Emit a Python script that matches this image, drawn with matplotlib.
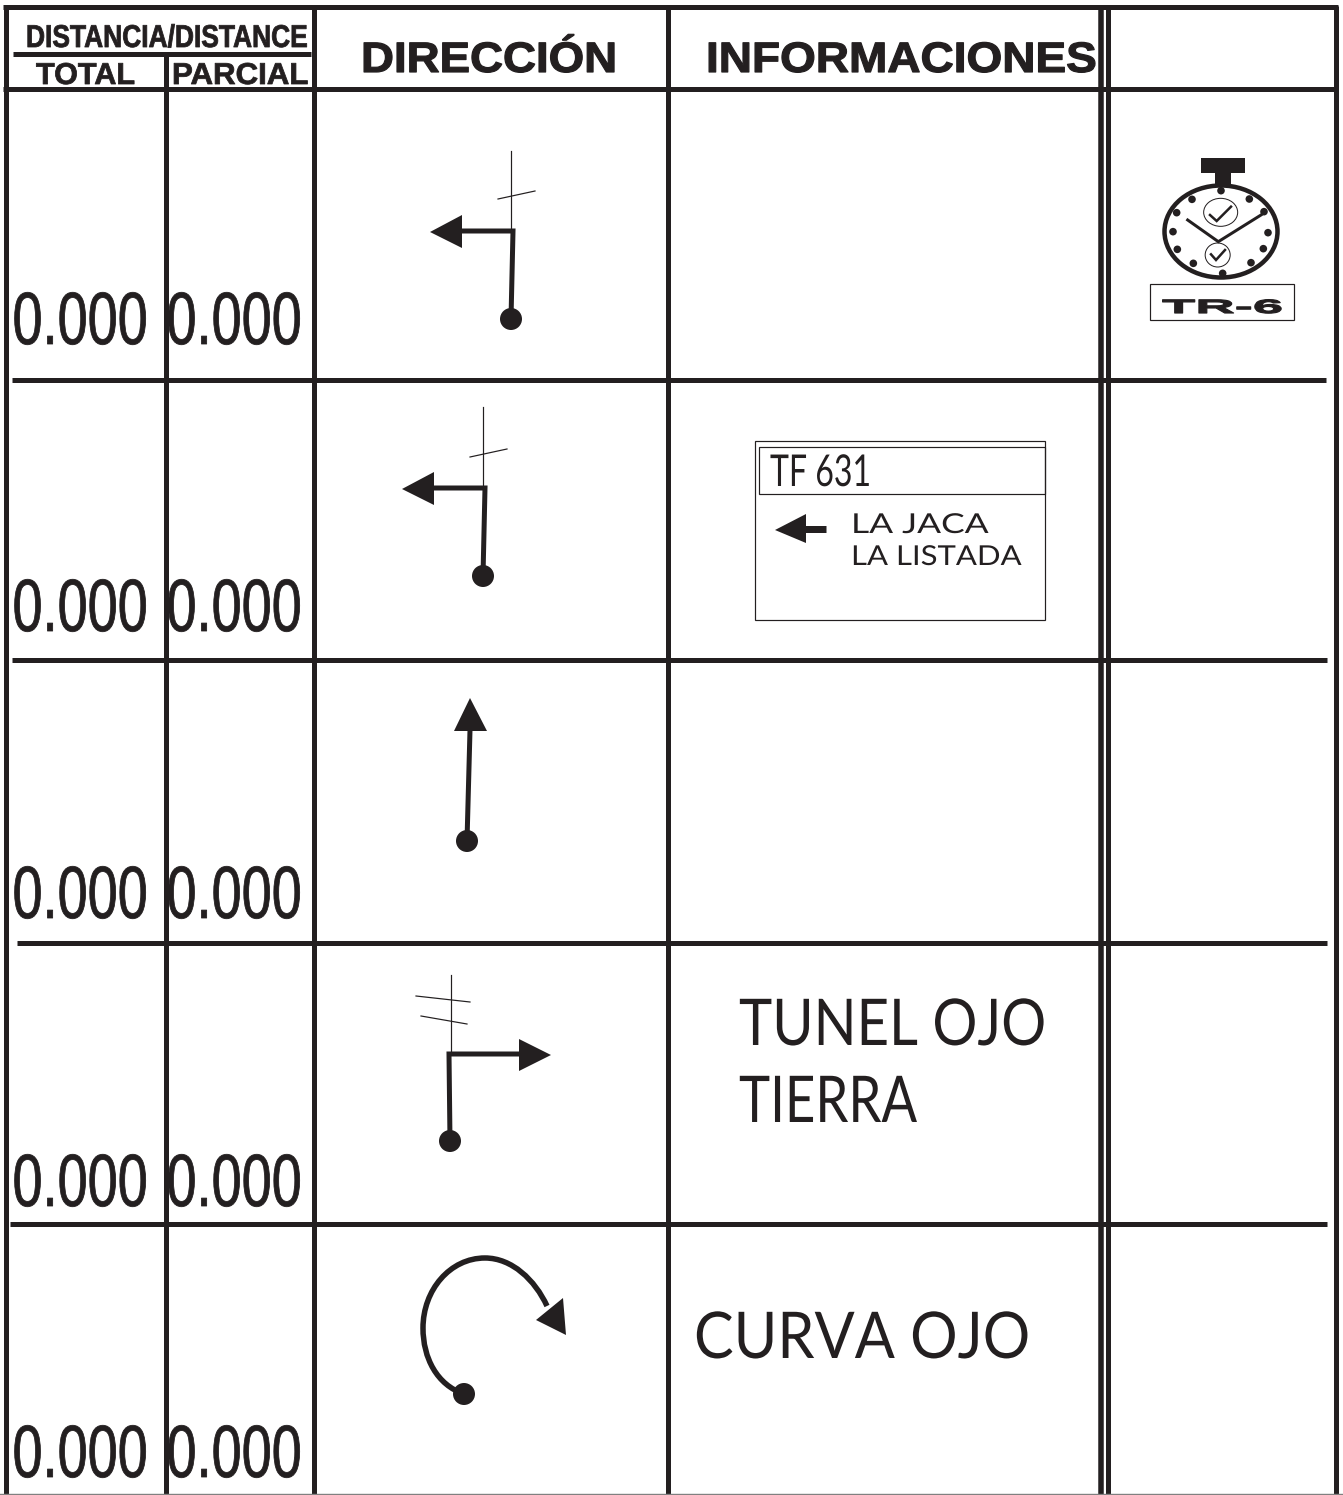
import numpy as np
import matplotlib
matplotlib.use("Agg")
import matplotlib.pyplot as plt
from matplotlib.patches import Circle, Ellipse, Polygon, Rectangle, PathPatch
from matplotlib.path import Path
from matplotlib.patheffects import AbstractPathEffect
from matplotlib.transforms import Affine2D

INK = "#231f20"

totals = ["0.000", "0.000", "0.000", "0.000", "0.000"]
partials = ["0.000", "0.000", "0.000", "0.000", "0.000"]
baselines = [344, 631, 918, 1206, 1477]

# x0, y0, x1, y1, width in px
rules = [
    (3, 6.5, 1338, 6.5, 5), (3, 88.5, 1338, 88.5, 5), (13, 54, 311, 54, 5),
    (5.5, 6, 5.5, 1495, 5), (314, 6, 314, 1495, 5), (165.5, 56, 165.5, 1495, 5),
    (668, 6, 668, 1495, 5), (1100.5, 6, 1100.5, 1495, 5.5), (1107.5, 6, 1107.5, 1495, 5),
    (1335.5, 6, 1335.5, 1495, 5),
    (12, 380, 1326, 380, 5), (12, 660, 1327, 660, 5),
    (17, 943, 1327, 943, 5), (10, 1224, 1327, 1224, 5),
]

routes = [
    [(511, 319), (513, 231), (462, 231)],
    [(483, 576), (485, 488), (434, 488)],
    [(467, 841), (470, 730)],
    [(450, 1141), (449, 1054), (520, 1054)],
]
heads = [
    [(430, 232), (462, 215), (462, 248)],
    [(402, 489), (434, 472), (434, 505)],
    [(470, 698), (454, 731), (487, 731)],
    [(551, 1055), (519, 1039), (519, 1071)],
    [(566, 1335), (536, 1320), (563, 1298)],
    [(775, 530), (806, 514), (806, 543)],
]
road_lines = [
    [(511, 151), (511, 229)], [(498, 199), (535, 191)],
    [(483, 407), (483, 486)], [(470, 457), (507, 449)],
    [(451, 975), (451, 1052)], [(416, 996), (470, 1002)], [(421, 1016), (467, 1024)],
]
curve_pts = [(464, 1394), (437, 1385), (423, 1358), (423, 1328),
             (423, 1290), (450, 1258), (485, 1258), (512, 1258), (535, 1280), (547, 1306)]

dial_dots = [(273, 152), (186, 178), (140, 218), (129, 275), (142, 328), (190, 370),
             (278, 400), (363, 368), (400, 326), (414, 278), (402, 215), (358, 177)]


class Squeeze(AbstractPathEffect):
    # stretch glyphs, text stays text; stroke thickens the letters
    def __init__(self, sx, sy, stroke=0):
        super().__init__()
        self.sx = sx
        self.sy = sy
        self.stroke = stroke

    def draw_path(self, renderer, gc, tpath, affine, rgbFace=None):
        gc0 = renderer.new_gc()
        gc0.copy_properties(gc)
        gc0.set_linewidth(self.stroke * 0.72)
        gc0.set_foreground(INK)
        renderer.draw_path(gc0, tpath, Affine2D().scale(self.sx, self.sy) + affine, rgbFace)
        gc0.restore()


fig = plt.figure(figsize=(13.43, 14.95), dpi=100)
ax = fig.add_axes([0, 0, 1, 1])
ax.set_xlim(0, 1343)
ax.set_ylim(1495, 0)
ax.axis("off")


def lw(px):
    return px * 0.72


def label(x0, x1, base, s, cap, family="Liberation Sans", weight="normal", stroke=0):
    size = cap * 0.72 / 0.729
    t = ax.text(x0, base, s, family=family, weight=weight, color=INK,
                fontsize=size, ha="left", va="baseline")
    sx = (x1 - x0) / t.get_window_extent(fig.canvas.get_renderer()).width
    sy = 1
    if sx < 1:
        # smaller font, stretched up: the box of the text then stays in its cell
        t.set_fontsize(size * sx)
        sy = 1 / sx
        sx = 1
    t.set_path_effects([Squeeze(sx, sy, stroke)])
    return t


for x0, y0, x1, y1, w in rules:
    ax.plot([x0, x1], [y0, y1], color=INK, lw=lw(w), solid_capstyle="butt")
ax.plot([0, 1343], [1494.3, 1494.3], color="#808080", lw=lw(1.4))

label(26, 307, 47, "DISTANCIA/DISTANCE", 23, weight="bold", stroke=0.8)
label(36, 135, 84, "TOTAL", 22, weight="bold", stroke=0.8)
label(172, 308, 84, "PARCIAL", 22, weight="bold", stroke=0.8)
label(361, 617, 72, "DIRECCIÓN", 31, weight="bold", stroke=1.2)
label(706, 1097, 72, "INFORMACIONES", 31, weight="bold", stroke=1.2)

for tot, par, b in zip(totals, partials, baselines):
    label(12.5, 147.5, b, tot, 54, stroke=0.8)
    label(166.5, 301.5, b, par, 54, stroke=0.8)

for r in routes:
    xs, ys = zip(*r)
    ax.plot(xs, ys, color=INK, lw=lw(5), solid_joinstyle="miter", solid_capstyle="butt")
    ax.add_patch(Circle(r[0], 11, color=INK, lw=0, zorder=3))
for h in heads:
    ax.add_patch(Polygon(h, closed=True, color=INK, lw=0, zorder=3))
for seg in road_lines:
    xs, ys = zip(*seg)
    ax.plot(xs, ys, color=INK, lw=lw(1.2))

codes = [Path.MOVETO] + [Path.CURVE4] * (len(curve_pts) - 1)
ax.add_patch(PathPatch(Path(curve_pts, codes), fc="none", ec=INK, lw=lw(5.5)))
ax.add_patch(Circle(curve_pts[0], 11, color=INK, lw=0, zorder=3))

# road sign box
ax.add_patch(Rectangle((755, 441), 290, 179, fc="none", ec=INK, lw=lw(1.2)))
ax.add_patch(Rectangle((759, 447), 286, 47, fc="none", ec=INK, lw=lw(1.2)))
ax.plot([800, 826], [529, 529], color=INK, lw=lw(7), solid_capstyle="butt")
label(770, 871, 486, "TF 631", 32, family="Lato")
label(851, 988, 533, "LA JACA", 20, family="Lato")
label(851, 1021, 565, "LA LISTADA", 20, family="Lato")
label(739, 1046, 1045, "TUNEL OJO", 47, family="Lato")
label(739, 917, 1122, "TIERRA", 47, family="Lato")
label(694, 1030, 1358, "CURVA OJO", 47, family="Lato")


# stopwatch, coordinates from the crop at 3x
def sw(p):
    return (1130 + p[0] / 3, 140 + p[1] / 3)


ax.add_patch(Rectangle((1201, 158), 44, 15, color=INK, lw=0))
ax.add_patch(Rectangle((1215, 173), 16, 12, color=INK, lw=0))
ax.add_patch(Ellipse((1221, 231.5), 113, 92, fc="white", ec=INK, lw=lw(4.5)))
for d in dial_dots:
    ax.add_patch(Circle(sw(d), 3.8, color=INK, lw=0, zorder=3))
ax.add_patch(Ellipse(sw((272, 217)), 34, 28, fc="white", ec=INK, lw=lw(1)))
ax.add_patch(Ellipse(sw((263, 345)), 25, 24, fc="white", ec=INK, lw=lw(1)))
for chk in ([(240, 225), (260, 243), (303, 200)], [(243, 343), (258, 360), (285, 330)]):
    xs, ys = zip(*[sw(p) for p in chk])
    ax.plot(xs, ys, color=INK, lw=lw(2.5), solid_joinstyle="miter")
xs, ys = zip(*[sw(p) for p in [(173, 240), (265, 305), (393, 225)]])
ax.plot(xs, ys, color=INK, lw=lw(3), solid_joinstyle="miter")
ax.add_patch(Rectangle((1150, 284), 144, 36, fc="none", ec=INK, lw=lw(1.2)))
label(1162, 1283, 313, "TR-6", 14, weight="bold", stroke=1.2)

fig.savefig("out.png", dpi=100, facecolor="white")
